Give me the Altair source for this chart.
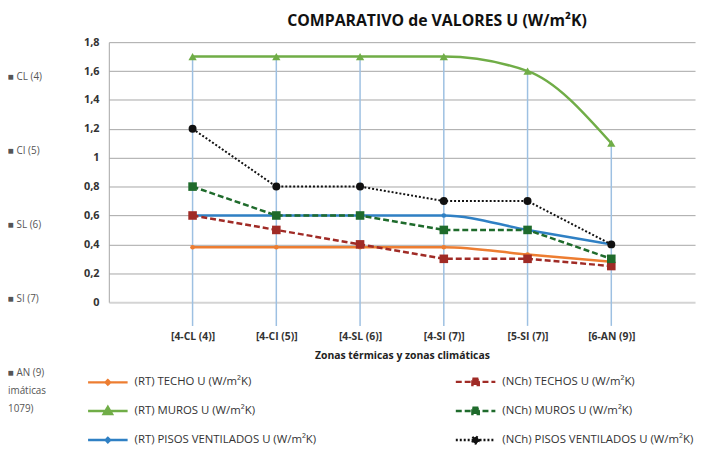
import altair as alt
import pandas as pd

# ---------------- data ----------------
TITLE = "COMPARATIVO de VALORES U (W/m²K)"
X_TITLE = "Zonas térmicas y zonas climáticas"
zones = ["[4-CL (4)]", "[4-CI (5)]", "[4-SL (6)]", "[4-SI (7)]", "[5-SI (7)]", "[6-AN (9)]"]

series_names = [
    "(RT) TECHO U (W/m²K)",
    "(RT) MUROS U (W/m²K)",
    "(RT) PISOS VENTILADOS U (W/m²K)",
    "(NCh) TECHOS U (W/m²K)",
    "(NCh) MUROS U (W/m²K)",
    "(NCh) PISOS VENTILADOS U (W/m²K)",
]
rt_techo = [0.38, 0.38, 0.38, 0.38, 0.33, 0.28]
rt_muros = [1.70, 1.70, 1.70, 1.70, 1.60, 1.10]
rt_pisos = [0.60, 0.60, 0.60, 0.60, 0.50, 0.40]
nch_techos = [0.60, 0.50, 0.40, 0.30, 0.30, 0.25]
nch_muros = [0.80, 0.60, 0.60, 0.50, 0.50, 0.30]
nch_pisos = [1.20, 0.80, 0.80, 0.70, 0.70, 0.40]
y_ticks = [0, 0.2, 0.4, 0.6, 0.8, 1.0, 1.2, 1.4, 1.6, 1.8]

# remnant of a neighbouring figure at the left edge
remnant_texts = ["■ CL (4)", "■ CI (5)", "■ SL (6)", "■ SI (7)", "■ AN (9)", "imáticas", "1079)"]

# ---------------- styles / layout ----------------
colors = ["#ED7D31", "#70AD47", "#2F80C4", "#A02B26", "#1F6B2C", "#111111"]
dashes = [[1, 0], [1, 0], [1, 0], [6, 3], [6, 3], [2, 2]]
legend_paths = [
    "M-2,0L2,0M0.22,0L0,0.22L-0.22,0L0,-0.22Z",
    "M-2,0L2,0M0,-0.4L0.42,0.32L-0.42,0.32Z",
    "M-2,0L2,0M0.22,0L0,0.22L-0.22,0L0,-0.22Z",
    "M-2,0L2,0M-0.32,-0.32L0.32,-0.32L0.32,0.32L-0.32,0.32Z",
    "M-2,0L2,0M-0.32,-0.32L0.32,-0.32L0.32,0.32L-0.32,0.32Z",
    "M-2,0L2,0M0.34,0L0.24,0.24L0,0.34L-0.24,0.24L-0.34,0L-0.24,-0.24L0,-0.34L0.24,-0.24Z",
]
remnant_y = [35, 110, 185, 260, 335, 353, 371]

W, H = 593, 263
FONT = "Open Sans"

values = [rt_techo, rt_muros, rt_pisos, nch_techos, nch_muros, nch_pisos]
rows = []
for name, vals in zip(series_names, values):
    for z, v in zip(zones, vals):
        rows.append({"series": name, "zone": z, "value": v})
df = pd.DataFrame(rows)
drop_df = df.groupby("zone", as_index=False)["value"].max()
rem_df = pd.DataFrame({"t": remnant_texts, "ypix": remnant_y})
title_df = pd.DataFrame({"t": [TITLE]})

RT = series_names[:3]
NCH_DASH = series_names[3:5]
NCH_DOT = series_names[5:]

xs = alt.Scale(type="point", domain=zones, padding=1)
ys = alt.Scale(domain=[0, 1.8], nice=False, zero=True)

x_enc = alt.X(
    "zone:N", scale=xs, sort=zones,
    axis=alt.Axis(title=X_TITLE, domain=False, ticks=False, grid=False,
                  labelPadding=30, labelFont=FONT, labelFontSize=10.5, labelFontWeight="bold",
                  labelColor="#333333", titleFont=FONT, titleFontSize=10.5, titleFontWeight="bold",
                  titleColor="#222222", titlePadding=9, labelAngle=0),
)
y_enc = alt.Y(
    "value:Q", scale=ys,
    axis=alt.Axis(title=None, values=y_ticks, ticks=False, domain=True, domainColor="#A6A6A6",
                  gridColor={"expr": "datum.value == 0 ? '#d4d4d4' : '#a6a6a6'"},
                  gridWidth={"expr": "datum.value == 0 ? 2 : 1"},
                  labelExpr="replace(format(datum.value, '~g'), '.', ',')",
                  labelPadding=10, labelFont=FONT, labelFontSize=11, labelColor="#333333",
                  labelFontWeight="bold"),
)

leg = alt.Legend(
    title=None, orient="none", legendX=-12.5, legendY=332, columns=2,
    columnPadding=135, rowPadding=9.5, labelOffset=15.5, symbolSize=400, symbolStrokeWidth=2.5,
    symbolOpacity=1, labelFont=FONT, labelFontSize=11.5, labelColor="#333333", labelLimit=400,
)
col = alt.Color("series:N", scale=alt.Scale(domain=series_names, range=colors), legend=leg)

base = alt.Chart(df)


def only(names):
    return alt.FieldOneOfPredicate(field="series", oneOf=names)


# invisible layer that only carries the legend's symbols (line + marker, dash pattern)
legend_layer = base.mark_point(size=400, filled=True, opacity=0).encode(
    x=x_enc, y=y_enc, color=col,
    shape=alt.Shape("series:N", scale=alt.Scale(domain=series_names, range=legend_paths), legend=leg),
    strokeDash=alt.StrokeDash("series:N", scale=alt.Scale(domain=series_names, range=dashes), legend=leg),
)

drops = alt.Chart(drop_df).mark_rule(color="#9DC0E2", strokeWidth=1.5).encode(
    x=x_enc, y=y_enc, y2=alt.value(287)
)

rt_lines = base.transform_filter(only(RT)).mark_line(
    interpolate="monotone", strokeWidth=2.5).encode(x=x_enc, y=y_enc, color=col)

dash_lines = base.transform_filter(only(NCH_DASH)).mark_line(
    strokeWidth=2.5, strokeDash=[6, 3]).encode(x=x_enc, y=y_enc, color=col)

dot_lines = base.transform_filter(only(NCH_DOT)).mark_line(
    strokeWidth=2, strokeDash=[2, 2]).encode(x=x_enc, y=y_enc, color=col)

small_pts = base.transform_filter(only([RT[0], RT[2]])).mark_point(
    shape="circle", filled=True, size=22, opacity=1).encode(x=x_enc, y=y_enc, color=col)

squares = base.transform_filter(only(NCH_DASH)).mark_point(
    shape="square", filled=True, size=75, opacity=1).encode(x=x_enc, y=y_enc, color=col)

triangles = base.transform_filter(only([RT[1]])).mark_point(
    shape="triangle-up", filled=True, size=70, opacity=1).encode(x=x_enc, y=y_enc, color=col)

circles = base.transform_filter(only(NCH_DOT)).mark_point(
    shape="circle", filled=True, size=65, opacity=1).encode(x=x_enc, y=y_enc, color=col)

remnant = alt.Chart(rem_df).mark_text(
    align="left", baseline="middle", font=FONT, fontSize=10, color="#555555"
).encode(x=alt.value(-102), y=alt.Y("ypix:Q", scale=None), text="t:N")

title = alt.Chart(title_df).mark_text(
    align="center", baseline="middle", font=FONT, fontSize=16, fontWeight="bold", color="#111111"
).encode(x=alt.value(332), y=alt.value(-21), text="t:N")

chart = alt.layer(
    legend_layer, drops, rt_lines, dash_lines, dot_lines, small_pts, squares, triangles, circles,
    remnant, title
).properties(
    width=W, height=H,
    autosize=alt.AutoSizeParams(type="none"),
    padding={"left": 102, "top": 32, "right": 4, "bottom": 147},
    background="white",
).configure_view(stroke=None)

chart.save("out.html", embed_options={"renderer": "svg", "actions": False})
